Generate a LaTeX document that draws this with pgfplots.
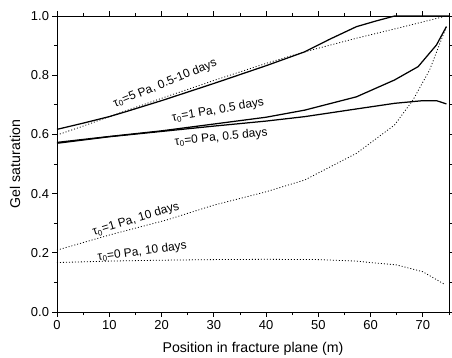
\documentclass[border=0pt]{standalone}
\usepackage{fontspec}
\setmainfont{Liberation Sans}
\usepackage{pgfplots}
\pgfplotsset{compat=1.18}
\begin{document}
\begin{tikzpicture}
\begin{axis}[
 at={(0,0)}, anchor=south west,
 scale only axis, width=392bp, height=296bp,
 xmin=0, xmax=75, ymin=0, ymax=1,
 xtick={0,10,20,30,40,50,60,70}, xticklabels={0,10,20,30,40,50,60,70},
 minor xtick={5,15,25,35,45,55,65,75},
 ytick={0,0.2,0.4,0.6,0.8,1.0}, yticklabels={0.0,0.2,0.4,0.6,0.8,1.0},
 minor ytick={0.1,0.3,0.5,0.7,0.9},
 tick align=outside, major tick length=4.5bp, minor tick length=3bp,
 axis line style={line width=0.8pt},
 every tick/.style={black, line width=0.8pt},
 /pgf/number format/assume math mode=true,
 tick label style={font=\fontsize{13}{15}\selectfont},
 label style={font=\fontsize{14.2}{16}\selectfont},
 xlabel={Position in fracture plane (m)},
 ylabel={Gel saturation},
 xlabel style={at={(axis description cs:0.5,0)}, anchor=center, yshift=-37bp},
 ylabel style={at={(axis description cs:0,0.5)}, anchor=center, rotate=0, yshift=42bp},
 clip=false,
 sdot/.style={black, line width=0.8pt, dash pattern=on 1bp off 2bp},
 ssol/.style={black, line width=1.25pt},
]
% tau0=5 solid
\addplot[ssol] coordinates {(0,0.617) (5,0.638) (10,0.660) (13.6,0.679) (20,0.714) (30,0.772) (40,0.832) (47.4,0.879) (52,0.92) (57.3,0.964) (61,0.983) (64.6,1.0) (75,1.0)};
% tau0=5 dotted
\addplot[sdot] coordinates {(0,0.598) (5,0.628) (10,0.660) (20,0.722) (30,0.782) (40,0.840) (47.4,0.879) (57.3,0.925) (65,0.958) (70,0.980) (74.5,1.0)};
% tau0=1 solid 0.5 days
\addplot[ssol] coordinates {(0,0.573) (10,0.593) (20,0.612) (30,0.635) (40,0.658) (47.4,0.682) (57.3,0.727) (64.6,0.784) (69.1,0.829) (72.6,0.902) (74.5,0.964)};
% tau0=0 solid 0.5 days
\addplot[ssol] coordinates {(0,0.570) (10,0.592) (20,0.610) (30,0.628) (40,0.645) (47.4,0.660) (57.3,0.686) (64.6,0.705) (70,0.714) (72.6,0.714) (74.5,0.703)};
% tau0=1 dotted 10 days
\addplot[sdot] coordinates {(0,0.209) (10,0.260) (21,0.311) (30,0.361) (40,0.406) (47.4,0.446) (57.3,0.536) (64.6,0.632) (68.1,0.716) (71.3,0.818) (74.5,0.964)};
% tau0=0 dotted 10 days
\addplot[sdot] coordinates {(0,0.167) (10,0.172) (20,0.175) (30,0.177) (40,0.178) (50,0.177) (57.3,0.172) (60,0.167) (65,0.159) (70,0.136) (74,0.095)};
\begin{scope}[every node/.style={font=\fontsize{12}{14}\selectfont, inner sep=0pt}]
\node[rotate=22] at (axis cs:20.7,0.772) {τ\textsubscript{0}=5 Pa, 0.5-10 days};
\node[rotate=9.5] at (axis cs:30.8,0.681) {τ\textsubscript{0}=1 Pa, 0.5 days};
\node[rotate=6] at (axis cs:31.4,0.589) {τ\textsubscript{0}=0 Pa, 0.5 days};
\node[rotate=17] at (axis cs:15.1,0.312) {τ\textsubscript{0}=1 Pa, 10 days};
\node[rotate=7.7] at (axis cs:16.3,0.204) {τ\textsubscript{0}=0 Pa, 10 days};
\end{scope}
\end{axis}
\pgfresetboundingbox
\path[use as bounding box] (-57bp,-46bp) rectangle (395bp,312bp);
\end{tikzpicture}
\end{document}
